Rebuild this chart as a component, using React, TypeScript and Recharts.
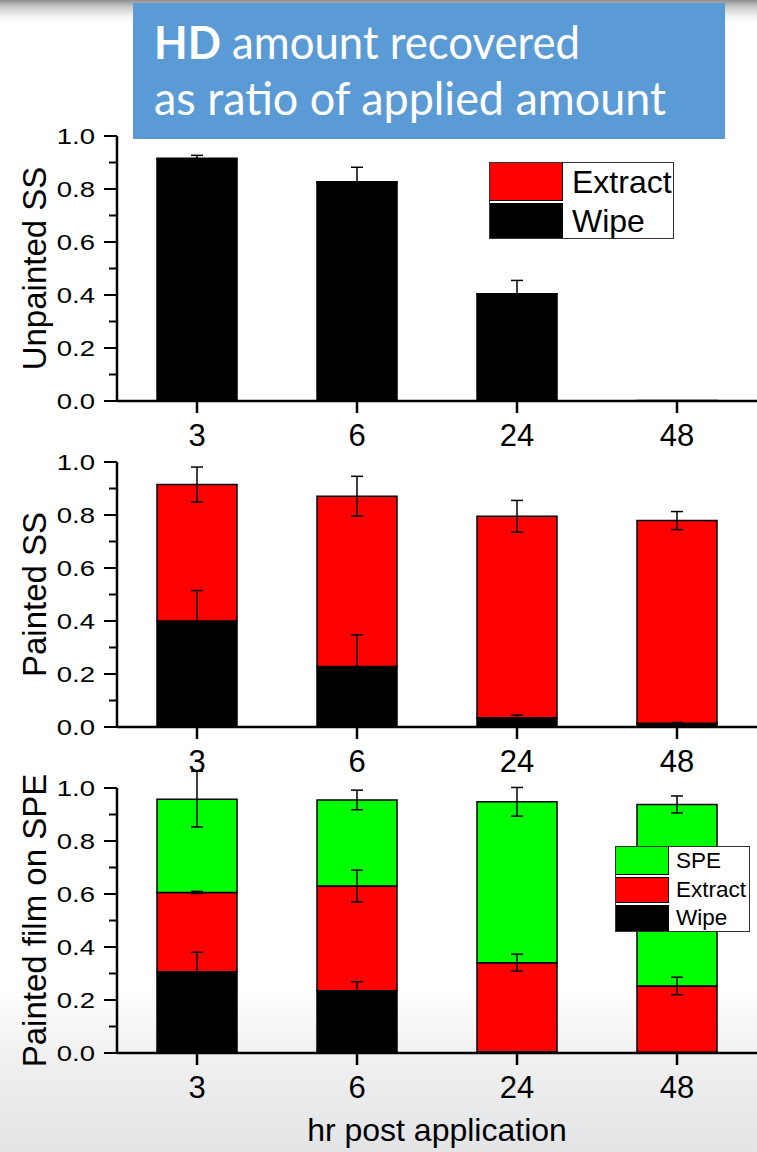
import React from 'react';
import { BarChart, Bar, XAxis, YAxis, ErrorBar, Legend } from 'recharts';

// ---------- data ----------
const hours = ['3', '6', '24', '48'];
const yTicks = [0, 0.1, 0.2, 0.3, 0.4, 0.5, 0.6, 0.7, 0.8, 0.9, 1.0];

// Panel 1: Unpainted SS
const p1Wipe = [0.91, 0.825, 0.403, 0.002];
const p1WipeErr = [0, 0, 0, 0];
const p1Extract = [0.006, 0.002, 0.002, 0.0];
const p1ExtractErr = [0.011, 0.055, 0.05, 0];

// Panel 2: Painted SS
const p2Wipe = [0.4, 0.228, 0.035, 0.014];
const p2WipeErr = [0.115, 0.12, 0.01, 0.003];
const p2Extract = [0.515, 0.643, 0.76, 0.765];
const p2ExtractErr = [0.066, 0.075, 0.06, 0.034];

// Panel 3: Painted film on SPE
const p3Wipe = [0.307, 0.235, 0.005, 0.003];
const p3WipeErr = [0.073, 0.034, 0, 0];
const p3Extract = [0.299, 0.395, 0.336, 0.25];
const p3ExtractErr = [0.004, 0.06, 0.032, 0.033];
const p3Spe = [0.352, 0.325, 0.607, 0.685];
const p3SpeErr = [0.105, 0.037, 0.054, 0.032];

const WIPE_COLOR = '#000000';
const EXTRACT_COLOR = '#ff0000';
const SPE_COLOR = '#00ff00';

const data1 = hours.map((h, i) => ({
  hour: h, wipe: p1Wipe[i], wipeErr: p1WipeErr[i], extract: p1Extract[i], extractErr: p1ExtractErr[i],
}));
const data2 = hours.map((h, i) => ({
  hour: h, wipe: p2Wipe[i], wipeErr: p2WipeErr[i], extract: p2Extract[i], extractErr: p2ExtractErr[i],
}));
const data3 = hours.map((h, i) => ({
  hour: h, wipe: p3Wipe[i], wipeErr: p3WipeErr[i], extract: p3Extract[i], extractErr: p3ExtractErr[i],
  spe: p3Spe[i], speErr: p3SpeErr[i],
}));

type Series = { key: string; errKey: string; name: string; color: string };
const series2: Series[] = [
  { key: 'wipe', errKey: 'wipeErr', name: 'Wipe', color: WIPE_COLOR },
  { key: 'extract', errKey: 'extractErr', name: 'Extract', color: EXTRACT_COLOR },
];
const series3: Series[] = [
  ...series2,
  { key: 'spe', errKey: 'speErr', name: 'SPE', color: SPE_COLOR },
];

// ---------- layout ----------
const W = 757;
const TOP_M = 20;
const PLOT_H = 265;
const X_H = 60;
const LEFT = 117;
const EXTRA = 0.2;
const EXTRA_PX = PLOT_H * EXTRA;
const FONT = '"Liberation Sans", Arial, sans-serif';

const YTick = (props: any) => {
  const { x, y, payload } = props;
  const v = payload.value as number;
  const major = Math.round(v * 10) % 2 === 0;
  return (
    <g>
      <line x1={x - (major ? 13 : 8)} x2={x} y1={y} y2={y} stroke="#000" strokeWidth={2} />
      {major && (
        <text
          transform={`translate(${x - 22},${y}) scale(1.25,1)`}
          textAnchor="end"
          dy="0.36em"
          fontSize={22}
          fontFamily={FONT}
          fill="#000"
        >
          {v.toFixed(1)}
        </text>
      )}
    </g>
  );
};

const makeYLabel = (text: string) => (props: any) => {
  const vb = props.viewBox || {};
  const cx = 46;
  const cy = (vb.y ?? TOP_M) + (vb.height ?? PLOT_H) / 2;
  return (
    <text
      x={cx}
      y={cy}
      transform={`rotate(-90 ${cx} ${cy})`}
      textAnchor="middle"
      fontSize={33}
      fontFamily={FONT}
      fill="#000"
    >
      {text}
    </text>
  );
};

type LegendCfg = {
  left: number; top: number; width: number; height: number;
  swatchW: number; fontSize: number; textPad: number;
};

const makeLegend = (items: Series[], cfg: LegendCfg) => () => {
  const rows = [...items].reverse();
  const rowH = cfg.height / rows.length;
  return (
    <div
      style={{
        width: cfg.width,
        height: cfg.height,
        boxSizing: 'border-box',
        border: '1px solid #333',
        background: '#fff',
        position: 'relative',
        fontFamily: FONT,
        overflow: 'hidden',
      }}
    >
      {rows.map((r, i) => (
        <div key={r.key} style={{ position: 'absolute', left: 0, top: i * rowH, height: rowH, width: '100%' }}>
          <div
            style={{
              position: 'absolute',
              left: -1,
              top: i === 0 ? -1 : 1,
              width: cfg.swatchW,
              height: rowH - (i === 0 ? 0 : 2),
              background: r.color,
              border: '1px solid #000',
              boxSizing: 'border-box',
            }}
          />
          <div
            style={{
              position: 'absolute',
              left: cfg.swatchW + cfg.textPad,
              top: 0,
              height: rowH,
              lineHeight: `${rowH}px`,
              fontSize: cfg.fontSize,
              color: '#000',
              whiteSpace: 'nowrap',
            }}
          >
            {r.name}
          </div>
        </div>
      ))}
    </div>
  );
};

type PanelProps = {
  top: number;
  data: any[];
  series: Series[];
  yLabel: string;
  legend?: LegendCfg;
  xLabel?: string;
};

const Panel = ({ top, data, series, yLabel, legend, xLabel }: PanelProps) => {
  const extraBottom = xLabel ? 50 : 0;
  const H = TOP_M + PLOT_H + X_H + extraBottom;
  return (
    <>
      <div style={{ position: 'absolute', left: 0, top }}>
        <BarChart
          width={W}
          height={H}
          data={data}
          margin={{ top: TOP_M, right: 0, bottom: extraBottom, left: 0 }}
          barCategoryGap="25%"
        >
          <XAxis
            dataKey="hour"
            height={X_H}
            interval={0}
            tickSize={12}
            tickMargin={11}
            axisLine={{ stroke: '#000', strokeWidth: 2.5 }}
            tickLine={{ stroke: '#000', strokeWidth: 2.5 }}
            tick={{ fontSize: 31, fill: '#000', fontFamily: FONT }}
            label={
              xLabel
                ? { value: xLabel, position: 'bottom', offset: 5, fontSize: 32, fill: '#000', fontFamily: FONT }
                : undefined
            }
          />
          <YAxis
            width={LEFT}
            domain={[0, 1]}
            ticks={yTicks}
            interval={0}
            allowDataOverflow
            tickSize={0}
            tickMargin={0}
            tickLine={false}
            tick={(p: any) => <YTick {...p} />}
            axisLine={{ stroke: '#000', strokeWidth: 2.5 }}
            label={{ value: yLabel, content: makeYLabel(yLabel) }}
          />
          {series.map((s) => (
            <Bar
              key={s.key}
              dataKey={s.key}
              name={s.name}
              stackId="a"
              fill={s.color}
              stroke="#000"
              strokeWidth={1.5}
              isAnimationActive={false}
            />
          ))}
          {legend && (
            <Legend
              layout="horizontal"
              verticalAlign="middle"
              align="center"
              width={legend.width}
              height={legend.height}
              wrapperStyle={{ left: legend.left, top: legend.top - top, width: legend.width, height: legend.height }}
              content={makeLegend(series, legend)}
            />
          )}
        </BarChart>
      </div>
      {/* error bars drawn on top of all stacked segments, same scale */}
      <div style={{ position: 'absolute', left: 0, top: top - EXTRA_PX }}>
        <BarChart
          width={W}
          height={H + EXTRA_PX - extraBottom}
          data={data}
          margin={{ top: TOP_M, right: 0, bottom: X_H, left: LEFT }}
          barCategoryGap="25%"
        >
          <XAxis dataKey="hour" hide />
          <YAxis hide domain={[0, 1 + EXTRA]} allowDataOverflow />
          {series.map((s) => (
            <Bar key={s.key} dataKey={s.key} stackId="a" fill="transparent" stroke="none" isAnimationActive={false}>
              <ErrorBar dataKey={s.errKey} direction="y" width={6} stroke="#000" strokeWidth={1.5} isAnimationActive={false} />
            </Bar>
          ))}
        </BarChart>
      </div>
    </>
  );
};

const Title = () => (
  <svg width={592} height={136} style={{ position: 'absolute', left: 133, top: 3 }}>
    <rect x={0} y={0} width={592} height={136} fill="#5b9bd5" />
    <text x={21} y={56} fill="#fff" fontFamily="Lato, 'Open Sans', sans-serif" fontSize={46} textLength={426} lengthAdjust="spacingAndGlyphs">
      <tspan fontWeight="bold">HD</tspan>
      <tspan> amount recovered</tspan>
    </text>
    <text x={21} y={112} fill="#fff" fontFamily="Lato, 'Open Sans', sans-serif" fontSize={46} textLength={512} lengthAdjust="spacingAndGlyphs">
      as ratio of applied amount
    </text>
  </svg>
);

export default function App() {
  return (
    <div
      style={{
        position: 'absolute',
        left: 0,
        top: 0,
        width: W,
        height: 1152,
        overflow: 'hidden',
        background:
          'linear-gradient(to bottom, #8e8e8e 0px, #c4c4c4 6px, #f2f2f2 16px, #ffffff 24px, #ffffff 990px, #f1f1f2 1050px, #e3e4e6 1152px)',
      }}
    >
      <Title />
      <Panel
        top={136 - TOP_M}
        data={data1}
        series={series2}
        yLabel="Unpainted SS"
        legend={{ left: 489, top: 162, width: 185, height: 77, swatchW: 74, fontSize: 32, textPad: 8 }}
      />
      <Panel top={462 - TOP_M} data={data2} series={series2} yLabel="Painted SS" />
      <Panel
        top={788 - TOP_M}
        data={data3}
        series={series3}
        yLabel="Painted film on SPE"
        xLabel="hr post application"
        legend={{ left: 615, top: 846, width: 135, height: 86, swatchW: 54, fontSize: 22.5, textPad: 6 }}
      />
    </div>
  );
}
